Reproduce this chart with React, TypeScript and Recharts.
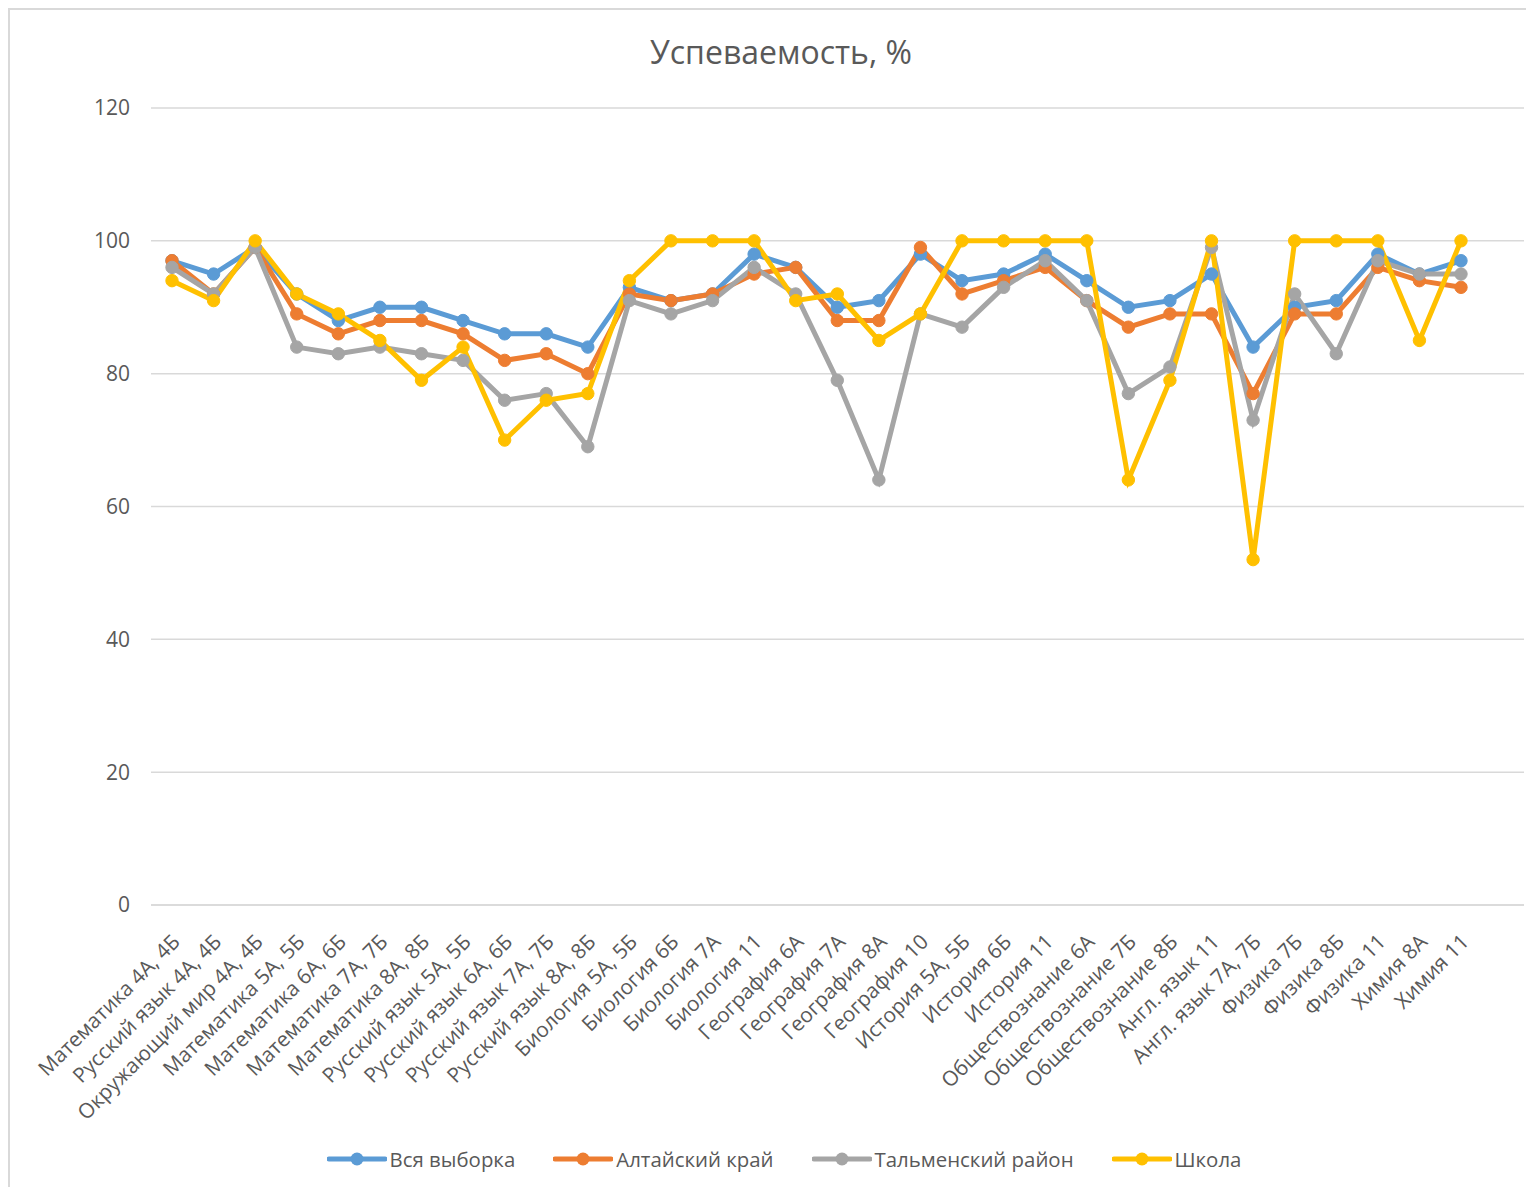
import { LineChart, Line, XAxis, YAxis, CartesianGrid, Legend } from 'recharts';

const categories = [
  'Математика 4А, 4Б',
  'Русский язык 4А, 4Б',
  'Окружающий мир 4А, 4Б',
  'Математика 5А, 5Б',
  'Математика 6А, 6Б',
  'Математика 7А, 7Б',
  'Математика 8А, 8Б',
  'Русский язык 5А, 5Б',
  'Русский язык 6А, 6Б',
  'Русский язык 7А, 7Б',
  'Русский язык 8А, 8Б',
  'Биология 5А, 5Б',
  'Биология 6Б',
  'Биология 7А',
  'Биология 11',
  'География 6А',
  'География 7А',
  'География 8А',
  'География 10',
  'История 5А, 5Б',
  'История 6Б',
  'История 11',
  'Обществознание 6А',
  'Обществознание 7Б',
  'Обществознание 8Б',
  'Англ. язык 11',
  'Англ. язык 7А, 7Б',
  'Физика 7Б',
  'Физика 8Б',
  'Физика 11',
  'Химия 8А',
  'Химия 11',
];

const vsyaVyborka = [97, 95, 99, 92, 88, 90, 90, 88, 86, 86, 84, 93, 91, 92, 98, 96, 90, 91, 98, 94, 95, 98, 94, 90, 91, 95, 84, 90, 91, 98, 95, 97];
const altaiKrai = [97, 92, 99, 89, 86, 88, 88, 86, 82, 83, 80, 92, 91, 92, 95, 96, 88, 88, 99, 92, 94, 96, 91, 87, 89, 89, 77, 89, 89, 96, 94, 93];
const talmenskiy = [96, 92, 99, 84, 83, 84, 83, 82, 76, 77, 69, 91, 89, 91, 96, 92, 79, 64, 89, 87, 93, 97, 91, 77, 81, 99, 73, 92, 83, 97, 95, 95];
const shkola = [94, 91, 100, 92, 89, 85, 79, 84, 70, 76, 77, 94, 100, 100, 100, 91, 92, 85, 89, 100, 100, 100, 100, 64, 79, 100, 52, 100, 100, 100, 85, 100];

const yTicks = [0, 20, 40, 60, 80, 100, 120];

const series = [
  { key: 'all', name: 'Вся выборка', color: '#5B9BD5' },
  { key: 'altai', name: 'Алтайский край', color: '#ED7D31' },
  { key: 'talmen', name: 'Тальменский район', color: '#A5A5A5' },
  { key: 'school', name: 'Школа', color: '#FFC000' },
];

const data = categories.map((name, i) => ({
  name,
  all: vsyaVyborka[i],
  altai: altaiKrai[i],
  talmen: talmenskiy[i],
  school: shkola[i],
}));

const FONT = '"Open Sans", "Noto Sans", sans-serif';
const TEXT = '#595959';

const CategoryTick = (props: any) => {
  const { x, y, payload } = props;
  return (
    <g transform={`translate(${x + 4},${y + 33})`}>
      <text transform="rotate(-45)" textAnchor="end" dy="0.35em" fill={TEXT} fontSize={20.8} fontFamily={FONT}>
        {payload.value}
      </text>
    </g>
  );
};

const LegendContent = () => (
  <div style={{ display: 'flex', justifyContent: 'center', alignItems: 'center', gap: 38, fontFamily: FONT, fontSize: 20.4, color: TEXT }}>
    {series.map((s) => (
      <div key={s.key} style={{ display: 'flex', alignItems: 'center' }}>
        <svg width={60} height={16} style={{ marginRight: 3 }}>
          <line x1={2} y1={8} x2={58} y2={8} stroke={s.color} strokeWidth={5} strokeLinecap="round" />
          <circle cx={30} cy={8} r={6.5} fill={s.color} />
        </svg>
        <span>{s.name}</span>
      </div>
    ))}
  </div>
);

export default function App() {
  return (
    <div
      style={{
        position: 'relative',
        width: 1524,
        height: 1177,
        borderTop: '2px solid #d9d9d9',
        borderLeft: '2px solid #d9d9d9',
        overflow: 'hidden',
        background: '#fff',
      }}
    >
      <div
        style={{
          position: 'absolute',
          top: 20,
          left: 0,
          width: 1524,
          paddingLeft: 18,
          boxSizing: 'border-box',
          textAlign: 'center',
          fontFamily: FONT,
          fontSize: 32,
          color: TEXT,
        }}
      >
        Успеваемость, %
      </div>
      <LineChart width={1524} height={1177} data={data} margin={{ top: 98, right: 10, left: 0, bottom: 14 }}>
        <CartesianGrid vertical={false} stroke="#d9d9d9" strokeWidth={1.5} />
        <XAxis
          dataKey="name"
          scale="point"
          interval={0}
          padding={{ left: 21, right: 63 }}
          height={240}
          tickLine={false}
          tickSize={0}
          tickMargin={0}
          axisLine={{ stroke: '#d9d9d9', strokeWidth: 1.5 }}
          tick={<CategoryTick />}
        />
        <YAxis
          domain={[0, 120]}
          ticks={yTicks}
          width={141}
          axisLine={false}
          tickLine={false}
          tickSize={0}
          tickMargin={21}
          tick={{ fill: TEXT, fontSize: 21, fontFamily: FONT }}
        />
        <Legend verticalAlign="bottom" content={<LegendContent />} wrapperStyle={{ left: 12, width: 1524 }} />
        {series.map((s) => (
          <Line
            key={s.key}
            type="linear"
            dataKey={s.key}
            name={s.name}
            stroke={s.color}
            strokeWidth={5}
            dot={{ r: 6.2, fill: s.color, stroke: s.color, strokeWidth: 1 }}
            activeDot={false}
            isAnimationActive={false}
          />
        ))}
      </LineChart>
    </div>
  );
}
